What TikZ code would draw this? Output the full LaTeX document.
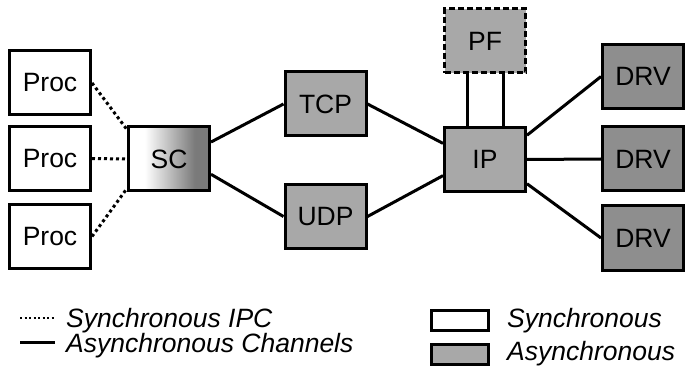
\documentclass[tikz,border=0pt]{standalone}
\usepackage{fontspec}
\setmainfont{Liberation Sans}
\usetikzlibrary{positioning}
\definecolor{lightbox}{HTML}{A8A8A8}
\definecolor{darkbox}{HTML}{8E8E8E}
\definecolor{scgray}{HTML}{7A7A7A}
\pgfdeclarehorizontalshading{scfade}{100bp}{color(0bp)=(white); color(35bp)=(white); color(66bp)=(scgray); color(100bp)=(scgray)}

\begin{document}
\begin{tikzpicture}[x=1pt,y=-1pt,
  font=\fontsize{26.5}{30}\selectfont,
  box/.style={rectangle,draw=black,line width=3pt,minimum width=81pt,
              minimum height=64pt,inner sep=0pt},
  sbox/.style={box,fill=white},
  abox/.style={box,fill=lightbox},
  dbox/.style={box,fill=darkbox},
  key/.style={rectangle,draw=black,line width=3pt,minimum width=57pt,
              minimum height=20pt,inner sep=0pt},
  ipc/.style={line width=3pt,dash pattern=on 3pt off 3pt},
  chan/.style={line width=3pt},
  lgd/.style={font=\fontsize{26.5}{30}\selectfont\itshape,anchor=base west,inner sep=0pt}
]
\useasboundingbox (0,0) rectangle (685,366);

\node[sbox] (p1) at (50,83)    {Proc};
\node[sbox] (p2) at (50,158.5) {Proc};
\node[sbox] (p3) at (50,236.5) {Proc};
\node[box,shade,shading=scfade] (sc) at (169,159) {SC};
\node[abox] (tcp) at (325.5,104)   {TCP};
\node[abox] (udp) at (325.5,216.5) {UDP};
\node[abox] (ip)  at (485,159.5)   {IP};
\node[abox,dash pattern=on 6pt off 3pt] (pf) at (485,41) {PF};
\node[dbox] (d1) at (643,76.5) {DRV};
\node[dbox] (d2) at (643,159)  {DRV};
\node[dbox] (d3) at (643,238)  {DRV};

\draw[ipc] (p1.east) -- (sc.145);
\draw[ipc] (p2.east) -- (sc.west);
\draw[ipc] (p3.east) -- (sc.215);
\draw[chan] (sc.22) -- (tcp.west);
\draw[chan] (sc.-20) -- (udp.west);
\draw[chan] (tcp.east) -- (ip.159);
\draw[chan] (udp.east) -- (ip.201);
\draw[chan] ([xshift=-18pt]pf.south) -- ([xshift=-18pt]ip.north);
\draw[chan] ([xshift=18pt]pf.south) -- ([xshift=18pt]ip.north);
\draw[chan] (ip.30) -- (d1.west);
\draw[chan] (ip.east) -- (d2.west);
\draw[chan] (ip.-30) -- (d3.west);

\coordinate (ia) at (20,318);
\coordinate (ib) at (54,318);
\coordinate (ca) at (20,342);
\coordinate (cb) at (55,342);
\draw[line width=2pt,dash pattern=on 2pt off 2.5pt] (ia) -- (ib);
\draw[chan] (ca) -- (cb);
\node[lgd] (lipc)  at (66,327) {Synchronous IPC};
\node[lgd] (lchan) at (66,352) {Asynchronous Channels};

\node[key,fill=white]    (ks) at (460,320) {};
\node[key,fill=lightbox] (ka) at (460,354) {};
\node[lgd] (lsync)  at (507,327) {Synchronous};
\node[lgd] (lasync) at (507,360) {Asynchronous};
\end{tikzpicture}
\end{document}
